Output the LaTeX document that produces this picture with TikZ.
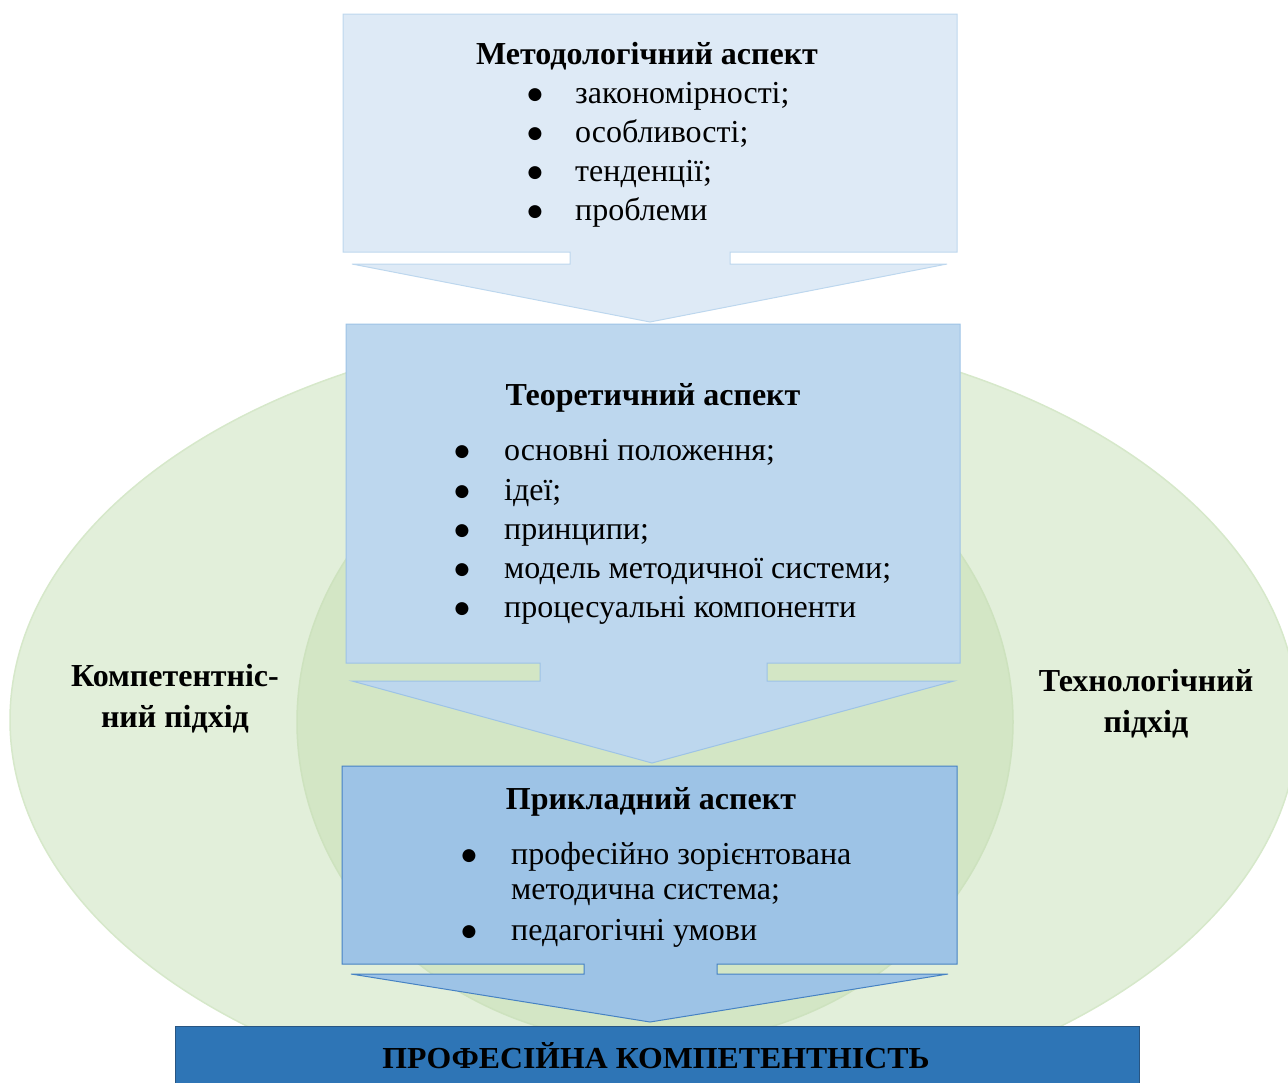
\documentclass[tikz,border=0pt]{standalone}
\usepackage{fontspec}
\setmainfont{Liberation Serif}
\newfontfamily\symfont{DejaVu Sans}
\definecolor{outerfill}{RGB}{226,239,218}
\definecolor{outerline}{RGB}{214,232,202}
\definecolor{innerfill}{RGB}{211,230,197}
\definecolor{innerline}{RGB}{205,226,190}
\definecolor{paleblue}{RGB}{222,234,246}
\definecolor{paleline}{RGB}{189,215,238}
\definecolor{midblue}{RGB}{189,215,238}
\definecolor{midline}{RGB}{157,195,230}
\definecolor{lowblue}{RGB}{157,195,230}
\definecolor{lowline}{RGB}{70,130,195}
\definecolor{barblue}{RGB}{46,117,182}
\definecolor{barline}{RGB}{40,85,130}
\begin{document}
\begin{tikzpicture}[x=1pt,y=-1pt,
  txt/.style={font=\fontsize{32}{38}\selectfont, inner sep=0pt},
  headline/.style={txt, font=\fontsize{32}{38}\selectfont\bfseries, anchor=mid},
  entry/.style={txt, anchor=mid west},
  dot/.style={inner sep=0pt, anchor=center, font=\symfont\fontsize{17}{17}\selectfont},
  sidelabel/.style={font=\fontsize{32}{41}\selectfont\bfseries, align=center, inner sep=0pt},
  calloutA/.style={fill=paleblue, draw=paleline, line width=1pt, line join=miter},
  calloutB/.style={fill=midblue, draw=midline, line width=1pt, line join=miter},
  calloutC/.style={fill=lowblue, draw=lowline, line width=1pt, line join=miter}]
\useasboundingbox (0,0) rectangle (1288,1082);
\begin{scope}
\clip (0,0) rectangle (1288,1082);
% the two approach ellipses
\filldraw[fill=outerfill, draw=outerline, line width=1.5pt] (654,720) ellipse [x radius=644, y radius=395];
\filldraw[fill=innerfill, draw=innerline, line width=1.5pt] (655,722) ellipse [x radius=358, y radius=322];

% methodological level: box with a downward arrow
\draw[calloutA] (343,14) -- (957,14) -- (957,252) -- (730,252) -- (730,264) -- (947,264)
  -- (650,322) -- (352,264) -- (570,264) -- (570,252) -- (343,252) -- cycle;
% theoretical level
\draw[calloutB] (346,324) -- (960,324) -- (960,663) -- (767,663) -- (767,681) -- (954,681)
  -- (652,763) -- (352,681) -- (540,681) -- (540,663) -- (346,663) -- cycle;
% applied level
\draw[calloutC] (342,766) -- (957,766) -- (957,964) -- (717,964) -- (717,974) -- (948,974)
  -- (650,1022) -- (351,974) -- (584,974) -- (584,964) -- (342,964) -- cycle;
% result bar
\filldraw[fill=barblue, draw=barline, line width=1pt] (175,1026) rectangle (1139,1100);
\end{scope}

% texts of the methodological level
\node[headline] (mtitle) at (647,62) {Методологічний аспект};
\node[dot] (mb1) at (535,95) {●};
\node[entry] (mi1) at (575,101) {закономірності;};
\node[dot] (mb2) at (535,134) {●};
\node[entry] (mi2) at (575,140) {особливості;};
\node[dot] (mb3) at (535,173) {●};
\node[entry] (mi3) at (575,179) {тенденції;};
\node[dot] (mb4) at (535,212) {●};
\node[entry] (mi4) at (575,218) {проблеми};

% texts of the theoretical level
\node[headline] (ttitle) at (653,403) {Теоретичний аспект};
\node[dot] (tb1) at (462,452) {●};
\node[entry] (ti1) at (504,458) {основні положення;};
\node[dot] (tb2) at (462,492) {●};
\node[entry] (ti2) at (504,498) {ідеї;};
\node[dot] (tb3) at (462,531) {●};
\node[entry] (ti3) at (504,537) {принципи;};
\node[dot] (tb4) at (462,570) {●};
\node[entry] (ti4) at (504,576) {модель методичної системи;};
\node[dot] (tb5) at (462,609) {●};
\node[entry] (ti5) at (504,615) {процесуальні компоненти};

% texts of the applied level
\node[headline] (atitle) at (651,807) {Прикладний аспект};
\node[dot] (ab1) at (469,856) {●};
\node[entry] (ai1) at (511,862) {професійно зорієнтована};
\node[entry] (ai1b) at (511,897) {методична система;};
\node[dot] (ab2) at (469,932) {●};
\node[entry] (ai2) at (511,938) {педагогічні умови};

% approaches
\node[sidelabel] (comp) at (175,699) {Компетентніс-\\ний підхід};
\node[sidelabel] (tech) at (1146,704) {Технологічний\\підхід};

% result
\node[inner sep=0pt, anchor=center] (result) at (656,1056)
  {\resizebox{547pt}{26pt}{\fontsize{30}{36}\selectfont\bfseries ПРОФЕСІЙНА КОМПЕТЕНТНІСТЬ}};
\end{tikzpicture}
\end{document}
